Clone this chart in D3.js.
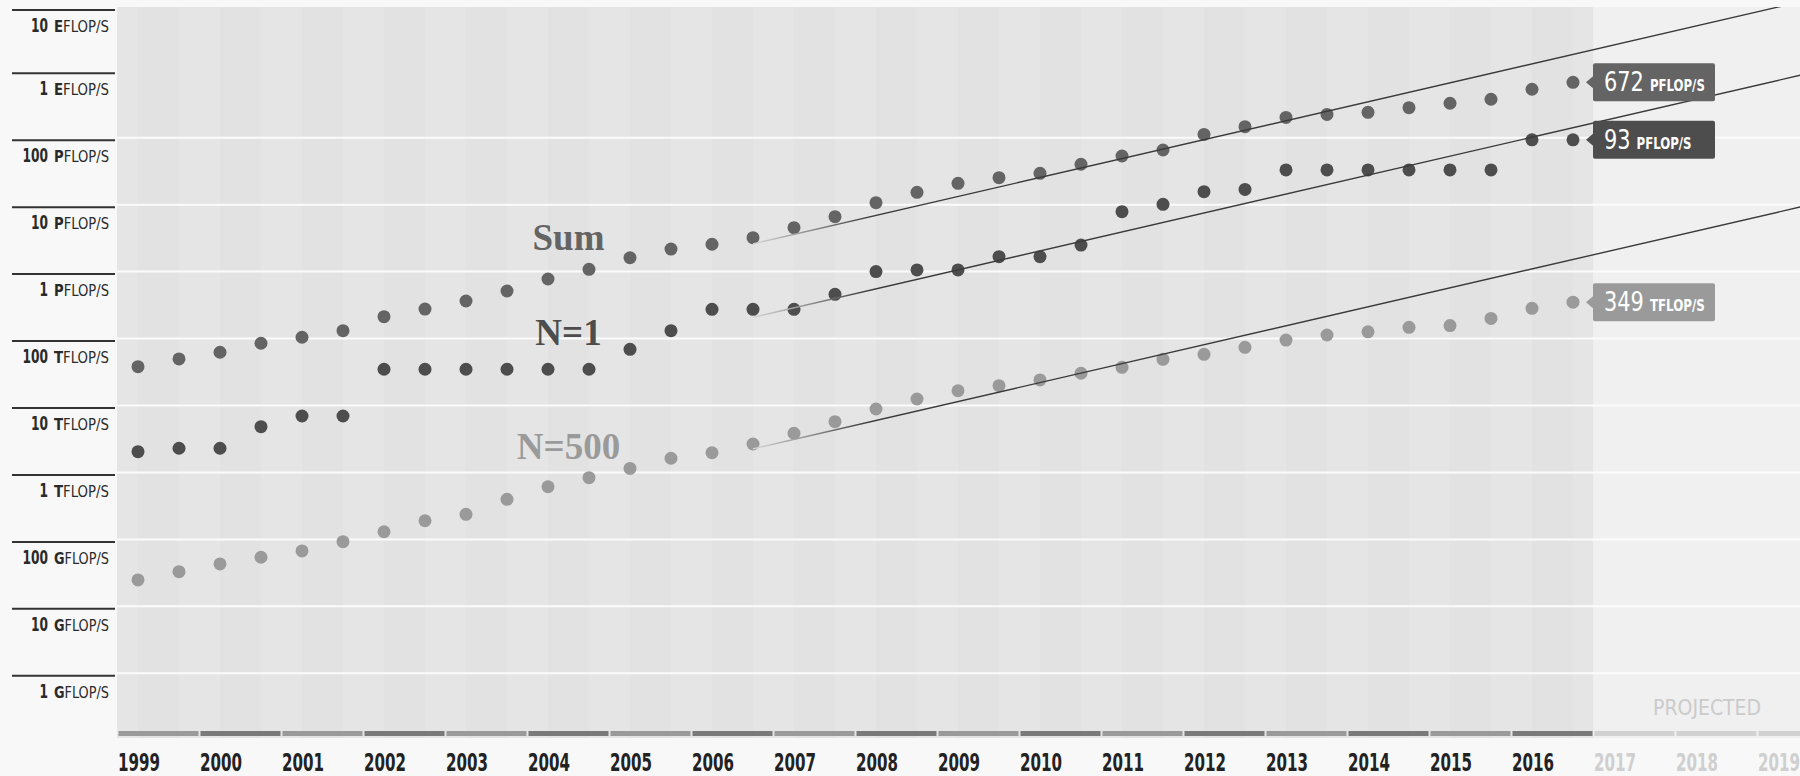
<!DOCTYPE html>
<html>
<head>
<meta charset="utf-8">
<script src="https://cdn.jsdelivr.net/npm/d3@7"></script>
<style>
  html, body { margin: 0; padding: 0; background: #f7f7f7; }
  svg { display: block; }
  .cond { font-family: "Liberation Sans Narrow", "DejaVu Sans Condensed", "Roboto", sans-serif; font-stretch: condensed; }
  .serif { font-family: "Liberation Serif", "DejaVu Serif", serif; font-weight: bold; }
</style>
</head>
<body>
<svg id="chart"></svg>
<script>
// TOP500 performance development, TFLOP/s, two lists per year (June / November)
const years = d3.range(1999, 2020)
const lastDataYear = 2016
const listOffsets = [0.25, 0.75]

const sumValues = [38, 49.6, 62.4, 85, 104.5, 131, 212, 276, 364,
  513, 775, 1080, 1610, 2170, 2560, 3210, 4530, 6610,
  10700, 15300, 20800, 25300, 29400, 40100, 53300, 65500, 112000,
  146000, 201000, 223000, 239000, 281000, 327000, 375000, 529000, 672000]

const n1Values = [2.04, 2.3, 2.3, 4.82, 6.97, 6.97, 34.8, 34.8, 34.8,
  34.8, 34.8, 34.8, 69, 131, 273, 273, 273, 458,
  1000, 1060, 1060, 1670, 1670, 2490, 7850, 10100, 15600,
  16900, 33000, 33000, 33000, 33000, 33000, 33000, 93000, 93000]

const n500Values = [0.0248, 0.033, 0.043, 0.0541, 0.0672, 0.0925, 0.13, 0.19, 0.237,
  0.397, 0.612, 0.835, 1.15, 1.63, 1.97, 2.66, 3.85, 5.73,
  8.87, 12.5, 16.6, 19.8, 24.1, 30.3, 37.2, 49, 58.2,
  74, 95, 113, 126, 147, 156, 200, 283, 349]

// trend lines [year, TFLOP/s]
const sumTrend = [[2006.75, 2600], [2020, 14560000]]
const n1Trend = [[2006.75, 208], [2020, 1170000]]
const n500Trend = [[2006.75, 2.25], [2020, 12600]]

const seriesNames = ['Sum', 'N=1', 'N=500']

const tickValues = [1e-3, 1e-2, 1e-1, 1, 10, 100, 1e3, 1e4, 1e5, 1e6, 1e7]
const tickNumbers = ['1', '10', '100', '1', '10', '100', '1', '10', '100', '1', '10']
const tickPrefixes = ['G', 'G', 'G', 'T', 'T', 'T', 'P', 'P', 'P', 'E', 'E']
const gridValues = [1e-3, 1e-2, 1e-1, 1, 10, 100, 1e3, 1e4, 1e5]

const W = 1800, H = 776
const plotLeft = 117, plotTop = 7, plotBottom = 738

const svg = d3.select('#chart').attr('width', W).attr('height', H)

const x = d3.scaleLinear().domain([1999, 2020]).range([117.5, 1839.5])
const y = d3.scaleLog().domain([1e-3, 1e7]).range([673.3, 3.8])

const series = [
  { name: seriesNames[0], values: sumValues, trend: sumTrend, color: '#646464', labelY: 250 },
  { name: seriesNames[1], values: n1Values, trend: n1Trend, color: '#4d4d4d', labelY: 345 },
  { name: seriesNames[2], values: n500Values, trend: n500Trend, color: '#9a9a9a', labelY: 459 }
]

const dataYears = years.filter(d => d <= lastDataYear)
const listTimes = []
dataYears.forEach(yr => listOffsets.forEach(o => listTimes.push(yr + o)))

// no condensed font here, so squeeze texts horizontally to the widths of the original
function squeeze(sel, width) {
  sel.each(function (d, i) {
    const t = d3.select(this)
    const w = typeof width === 'function' ? width(d, i) : width
    const natural = this.getComputedTextLength()
    const tx = +t.attr('x'), ty = +t.attr('y')
    t.attr('x', 0).attr('y', 0)
      .attr('transform', `translate(${tx},${ty}) scale(${Math.min(1, w / natural)},1)`)
  })
}

svg.append('rect').attr('width', W).attr('height', H).attr('fill', '#f8f8f8')

const defs = svg.append('defs')
defs.append('clipPath').attr('id', 'plot-clip').append('rect')
  .attr('x', plotLeft).attr('y', plotTop)
  .attr('width', W - plotLeft).attr('height', plotBottom - plotTop)

const grad = defs.append('linearGradient').attr('id', 'trend-fade')
  .attr('gradientUnits', 'userSpaceOnUse')
  .attr('x1', x(2006.75)).attr('x2', x(2008.2)).attr('y1', 0).attr('y2', 0)
grad.append('stop').attr('offset', 0).attr('stop-color', '#d6d6d6')
grad.append('stop').attr('offset', 1).attr('stop-color', '#3a3a3a')

// background
const bg = svg.append('g')
bg.append('rect')
  .attr('x', plotLeft).attr('y', plotTop)
  .attr('width', x(lastDataYear + 1) - plotLeft).attr('height', plotBottom - plotTop)
  .attr('fill', '#e5e5e5')
bg.selectAll('.stripe').data(dataYears).enter().append('rect')
  .attr('x', d => x(d + 0.25)).attr('y', plotTop)
  .attr('width', d => x(d + 0.75) - x(d + 0.25)).attr('height', plotBottom - plotTop)
  .attr('fill', '#e2e2e2')
bg.append('rect')
  .attr('x', x(lastDataYear + 1)).attr('y', plotTop)
  .attr('width', W - x(lastDataYear + 1)).attr('height', plotBottom - plotTop)
  .attr('fill', '#f0f0f0')

// gridlines
svg.append('g').selectAll('line').data(gridValues).enter().append('line')
  .attr('x1', plotLeft).attr('x2', W)
  .attr('y1', d => y(d)).attr('y2', d => y(d))
  .attr('stroke', '#fbfbfb').attr('stroke-width', 2)

// y labels
const yl = svg.append('g').selectAll('g').data(tickValues).enter().append('g')
  .attr('transform', d => `translate(0,${Math.max(y(d) + 2.5, 10)})`)
yl.append('line').attr('x1', 12).attr('x2', 115)
  .attr('stroke', '#333').attr('stroke-width', 2)
yl.append('text').attr('class', 'cond')
  .attr('x', 48).attr('y', 22).attr('text-anchor', 'end').attr('fill', '#2a2a2a')
  .attr('font-size', 19).attr('font-weight', 'bold')
  .text((d, i) => tickNumbers[i])
  .call(squeeze, (d, i) => 8.5 * tickNumbers[i].length)
const ylu = yl.append('text').attr('class', 'cond')
  .attr('x', 54).attr('y', 22).attr('fill', '#2a2a2a')
ylu.append('tspan').attr('font-size', 15).attr('font-weight', 'bold').text((d, i) => tickPrefixes[i])
ylu.append('tspan').attr('font-size', 15).text('FLOP/S')
ylu.call(squeeze, 55)

// bottom year segments
svg.append('g').selectAll('rect').data(years).enter().append('rect')
  .attr('x', d => x(d) + 1).attr('y', 731)
  .attr('width', d => x(d + 1) - x(d) - 2).attr('height', 5)
  .attr('fill', d => d > lastDataYear ? '#d2d2d2' : (d % 2 ? '#9a9a9a' : '#7a7a7a'))

svg.append('g').selectAll('text').data(years).enter().append('text')
  .attr('class', 'cond')
  .attr('x', d => x(d) + 0.5).attr('y', 771)
  .attr('font-size', 25).attr('font-weight', 'bold')
  .attr('fill', d => d > lastDataYear ? '#cfcfcf' : '#222')
  .text(d => d)
  .call(squeeze, 42)

svg.append('text').attr('class', 'cond')
  .attr('x', 1653).attr('y', 715)
  .attr('font-size', 21).attr('fill', '#cbcbcb')
  .text('PROJECTED')
  .call(squeeze, 115)

// dots
const plot = svg.append('g').attr('clip-path', 'url(#plot-clip)')
series.forEach(s => {
  plot.append('g').selectAll('circle').data(s.values).enter().append('circle')
    .attr('cx', (d, i) => x(listTimes[i]))
    .attr('cy', d => y(d))
    .attr('r', 6.5)
    .attr('fill', s.color)
})

// trend lines
const line = d3.line().x(d => x(d[0])).y(d => y(d[1]))
series.forEach(s => {
  plot.append('path').datum(s.trend)
    .attr('d', line)
    .attr('fill', 'none')
    .attr('stroke', 'url(#trend-fade)')
    .attr('stroke-width', 1.4)
})

// series names
svg.append('g').selectAll('text').data(series).enter().append('text')
  .attr('class', 'serif')
  .attr('x', x(2004.5)).attr('y', d => d.labelY)
  .attr('text-anchor', 'middle').attr('font-size', 37)
  .attr('fill', d => d.color)
  .text(d => d.name)

// last value labels
const lastNumber = d => {
  const v = d.values[d.values.length - 1]
  return String(v >= 1000 ? Math.round(v / 1000) : Math.round(v))
}
const tags = svg.append('g').selectAll('g').data(series).enter().append('g')
  .attr('transform', d => `translate(${x(listTimes[listTimes.length - 1]) + 20},${y(d.values[d.values.length - 1])})`)
tags.append('path')
  .attr('d', 'M-7,0 L0,-6 L0,6 Z')
  .attr('fill', d => d.color)
tags.append('rect')
  .attr('x', 0).attr('y', -19).attr('width', 122).attr('height', 38).attr('rx', 2)
  .attr('fill', d => d.color)
tags.append('text').attr('class', 'cond')
  .attr('x', 11).attr('y', 9).attr('fill', '#fff')
  .attr('font-size', 26)
  .text(lastNumber)
  .call(squeeze, d => 13.3 * lastNumber(d).length)
tags.append('text').attr('class', 'cond')
  .attr('x', d => 17 + 13.3 * lastNumber(d).length).attr('y', 9).attr('fill', '#fff')
  .attr('font-size', 15).attr('font-weight', 'bold')
  .text(d => (d.values[d.values.length - 1] >= 1000 ? 'P' : 'T') + 'FLOP/S')
  .call(squeeze, 55)
</script>
</body>
</html>
